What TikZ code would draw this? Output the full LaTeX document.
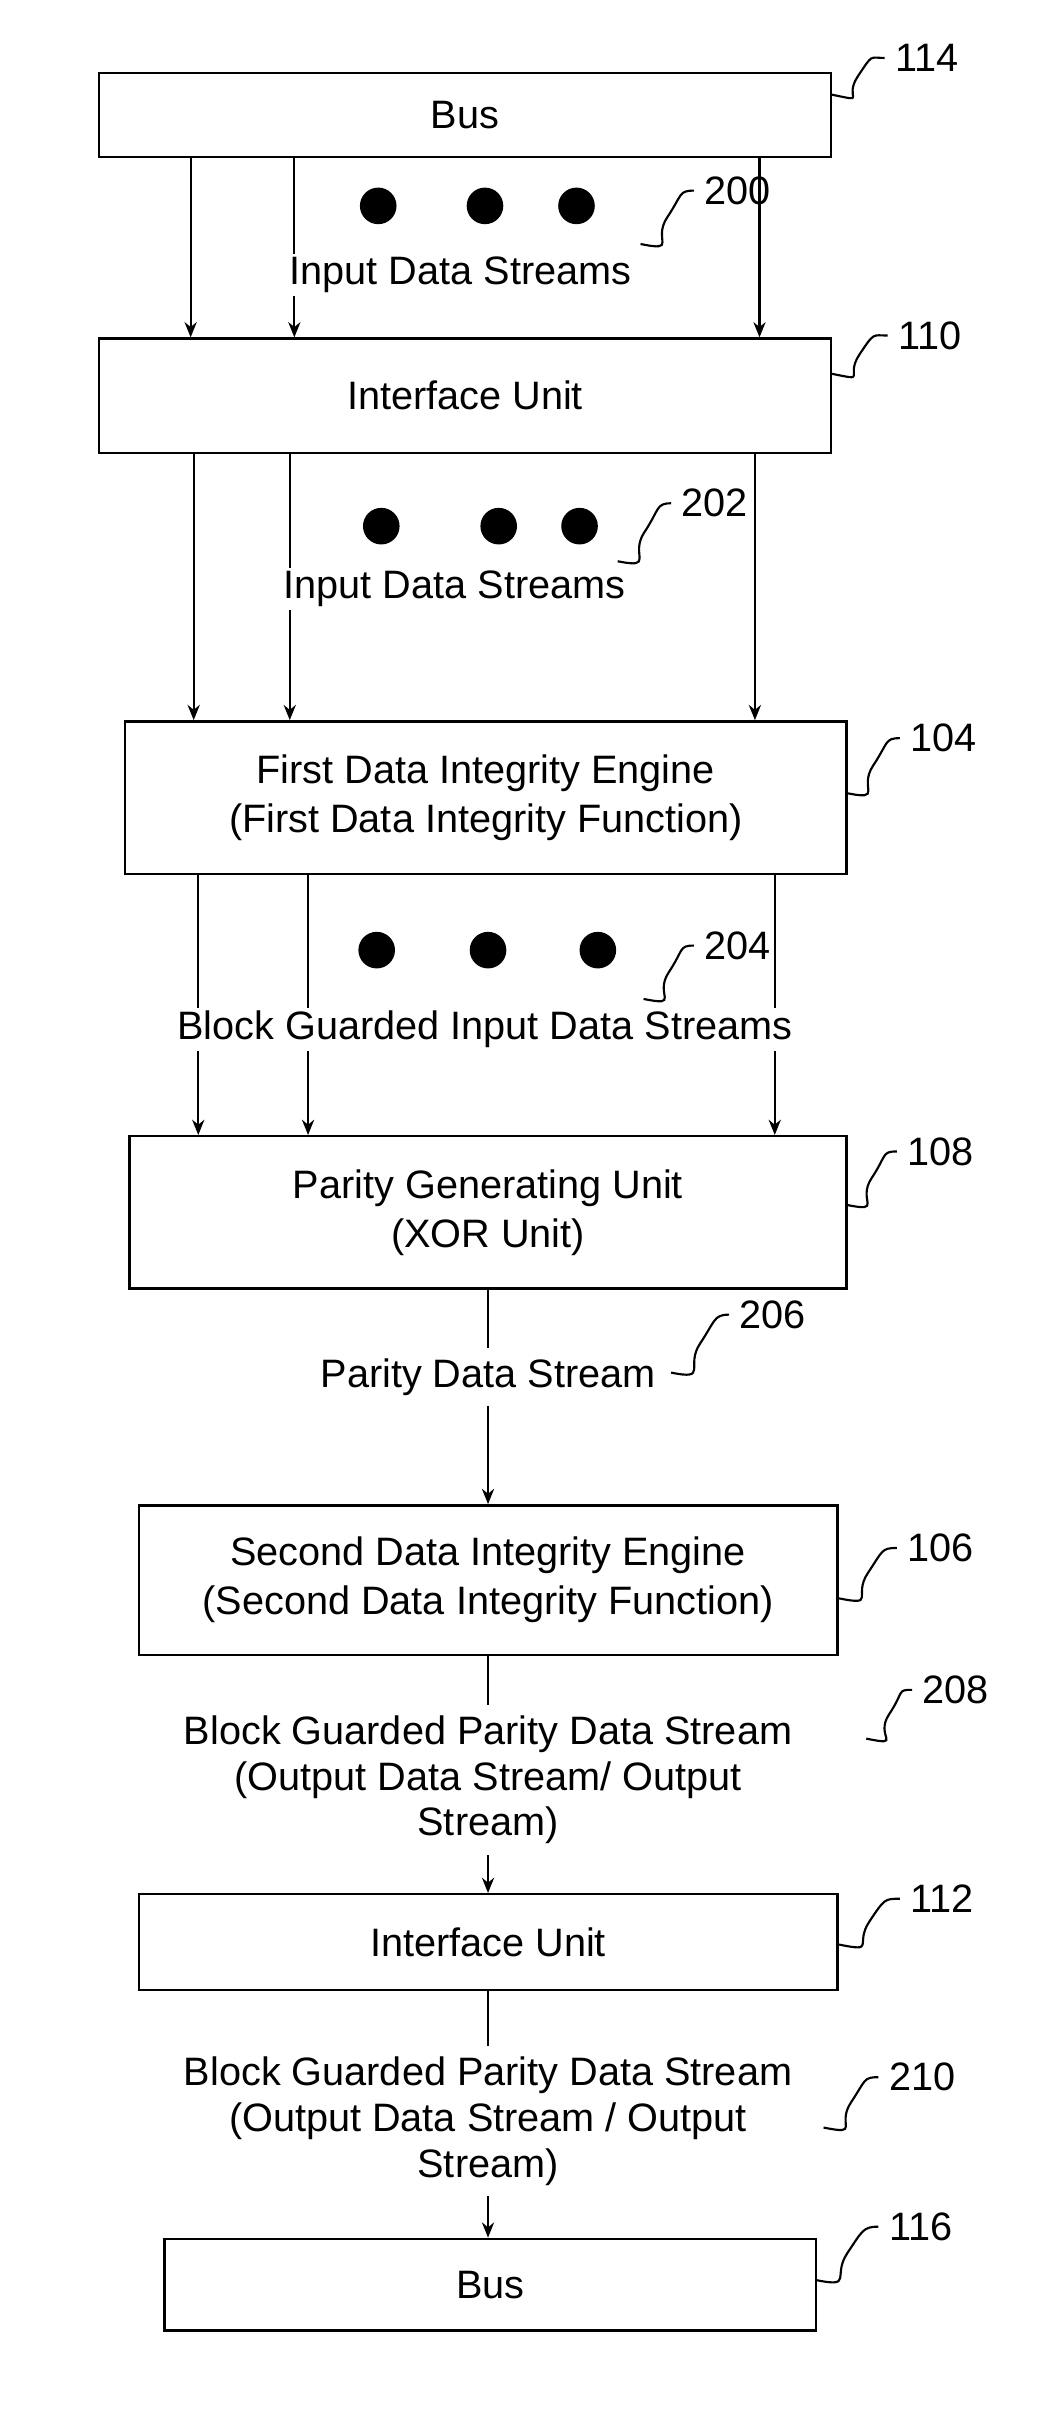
\documentclass[tikz,border=0pt]{standalone}
\usepackage{fontspec}
\setmainfont{Liberation Sans}
\usetikzlibrary{arrows.meta,calc}
\begin{document}
\begin{tikzpicture}[x=0.5pt,y=-0.5pt,
  box/.style={draw,line width=0.8pt,inner sep=0pt,align=center,font=\fontsize{13}{16}\selectfont},
  lbl/.style={align=center,font=\fontsize{13}{15}\selectfont},
  num/.style={font=\fontsize{13}{15}\selectfont,anchor=west},
  arr/.style={line width=0.7pt,-{Stealth[length=5pt,width=4pt]}},
  ln/.style={line width=0.7pt},
  sq/.style={line width=0.7pt},
  dot/.style={fill=black}]
\useasboundingbox (0,0) rectangle (690,1594);
% boxes
\node[box,minimum width=240pt,minimum height=27.5pt] (bus1) at (305,75.5) {Bus};
\node[box,minimum width=240pt,minimum height=37.5pt] (iu1) at (305,259.5) {Interface Unit};
\node[box,minimum width=236.5pt,minimum height=50pt] (die1) at (318.5,523) {First Data Integrity Engine\\(First Data Integrity Function)};
\node[box,minimum width=235pt,minimum height=50pt] (pgu) at (320,795) {Parity Generating Unit\\(XOR Unit)};
\node[box,minimum width=229pt,minimum height=49pt] (die2) at (320,1036) {Second Data Integrity Engine\\(Second Data Integrity Function)};
\node[box,minimum width=229pt,minimum height=31.5pt] (iu2) at (320,1273.5) {Interface Unit};
\node[box,minimum width=213.5pt,minimum height=30pt] (bus2) at (321.5,1498) {Bus};
% columns
\coordinate (a1) at (125,0); \coordinate (a2) at (193,0); \coordinate (a3) at (498,0);
\coordinate (b1) at (127,0); \coordinate (b2) at (190,0); \coordinate (b3) at (495,0);
\coordinate (c1) at (130,0); \coordinate (c2) at (202,0); \coordinate (c3) at (508,0);
\coordinate (m) at (320,0);
\foreach \i in {1,2,3}{
  \draw[arr] (bus1.south -| a\i) -- (iu1.north -| a\i);
  \draw[arr] (iu1.south -| b\i) -- (die1.north -| b\i);
  \draw[arr] (die1.south -| c\i) -- (pgu.north -| c\i);
}
% dots
\foreach \x in {248,318,378} \fill[dot] (\x,135) circle (6pt);
\foreach \x in {250,327,380} \fill[dot] (\x,345) circle (6pt);
\foreach \x in {247,320,392} \fill[dot] (\x,623) circle (6pt);
% stream labels
\node[lbl,fill=white,inner sep=1pt] (t200) at (302,180) {Input Data Streams};
\node[lbl,fill=white,inner sep=1pt] (t202) at (298,386) {Input Data Streams};
\node[lbl,fill=white,inner sep=1pt] (t204) at (318,675) {Block Guarded Input Data Streams};
\node[lbl] (t206) at (320,903) {Parity Data Stream};
\node[lbl] (t208) at (320,1167) {Block Guarded Parity Data Stream\\(Output Data Stream/ Output\\Stream)};
\node[lbl] (t210) at (320,1391) {Block Guarded Parity Data Stream\\(Output Data Stream / Output\\Stream)};
% single-stream connectors
\draw[ln] (pgu.south -| m) -- (t206.north -| m);
\draw[arr] (t206.south -| m) -- (die2.north -| m);
\draw[ln] (die2.south -| m) -- (t208.north -| m);
\draw[arr] (t208.south -| m) -- (iu2.north -| m);
\draw[ln] (iu2.south -| m) -- (t210.north -| m);
\draw[arr] (t210.south -| m) -- (bus2.north -| m);
% reference numbers
\node[num] (n114) at (580,38) {114};
\node[num] (n200) at (455,125) {200};
\node[num] (n110) at (582,220) {110};
\node[num] (n202) at (440,330) {202};
\node[num] (n104) at (590,484) {104};
\node[num] (n204) at (455,620) {204};
\node[num] (n108) at (588,755) {108};
\node[num] (n206) at (478,862) {206};
\node[num] (n106) at (588,1015) {106};
\node[num] (n208) at (598,1108) {208};
\node[num] (n112) at (590,1245) {112};
\node[num] (n210) at (576,1362) {210};
\node[num] (n116) at (576,1460) {116};
% squiggles
\newcommand{\squig}[2]{\draw[sq] (#1) .. controls +(25,5) and +(-10,15) .. ($(#1)!0.5!(#2)$) .. controls +(10,-15) and +(-10,0) .. (#2);}
\coordinate (s114) at (545,62); \squig{s114}{n114.west}
\coordinate (s200) at (420,160); \squig{s200}{n200.west}
\coordinate (s110) at (545,245); \squig{s110}{n110.west}
\coordinate (s202) at (405,368); \squig{s202}{n202.west}
\coordinate (s104) at (555,520); \squig{s104}{n104.west}
\coordinate (s204) at (422,655); \squig{s204}{n204.west}
\coordinate (s108) at (555,790); \squig{s108}{n108.west}
\coordinate (s206) at (440,900); \squig{s206}{n206.west}
\coordinate (s106) at (550,1048); \squig{s106}{n106.west}
\coordinate (s208) at (568,1140); \squig{s208}{n208.west}
\coordinate (s112) at (550,1275); \squig{s112}{n112.west}
\coordinate (s210) at (540,1395); \squig{s210}{n210.west}
\coordinate (s116) at (535,1495); \squig{s116}{n116.west}
\end{tikzpicture}
\end{document}
